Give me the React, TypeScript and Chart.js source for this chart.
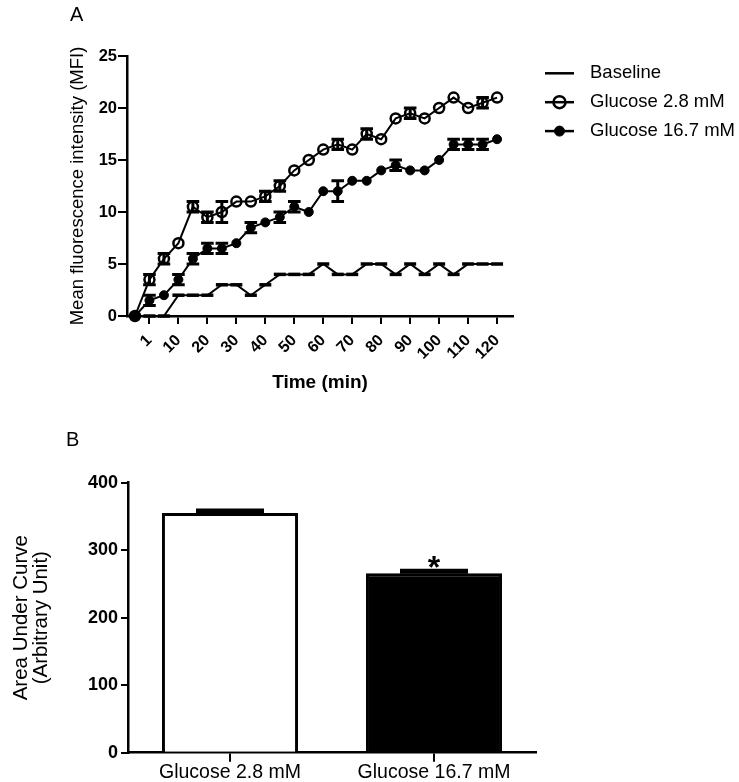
import React, { useEffect, useRef } from 'react';
import { Chart, registerables } from 'chart.js';

Chart.register(...registerables);

const FONT = '"Liberation Sans", Arial, Helvetica, sans-serif';

// Panel A data
const TIME_LABELS = [0, 1, 5, 10, 15, 20, 25, 30, 35, 40, 45, 50, 55, 60, 65, 70, 75, 80, 85, 90, 95, 100, 105, 110, 115, 120];
const TICK_MINUTES = [1, 10, 20, 30, 40, 50, 60, 70, 80, 90, 100, 110, 120];
const SERIES_LABELS = ['Baseline', 'Glucose 2.8 mM', 'Glucose 16.7 mM'];
const BASELINE = [0, 0, 0, 2, 2, 2, 3, 3, 2, 3, 4, 4, 4, 5, 4, 4, 5, 5, 4, 5, 4, 5, 4, 5, 5, 5];
const GLUCOSE_28 = [0, 3.5, 5.5, 7, 10.5, 9.5, 10, 11, 11, 11.5, 12.5, 14, 15, 16, 16.5, 16, 17.5, 17, 19, 19.5, 19, 20, 21, 20, 20.5, 21];
const GLUCOSE_28_ERR = [0, 0.5, 0.5, 0, 0.5, 0.5, 1, 0, 0, 0.5, 0.5, 0, 0, 0, 0.5, 0, 0.5, 0, 0, 0.5, 0, 0, 0, 0, 0.5, 0];
const GLUCOSE_167 = [0, 1.5, 2, 3.5, 5.5, 6.5, 6.5, 7, 8.5, 9, 9.5, 10.5, 10, 12, 12, 13, 13, 14, 14.5, 14, 14, 15, 16.5, 16.5, 16.5, 17];
const GLUCOSE_167_ERR = [0, 0.5, 0, 0.5, 0.5, 0.5, 0.5, 0, 0.5, 0, 0.5, 0.5, 0, 0, 1, 0, 0, 0, 0.5, 0, 0, 0, 0.5, 0.5, 0.5, 0];

// Panel B data
const BAR_LABELS = ['Glucose 2.8 mM', 'Glucose 16.7 mM'];
const BAR_VALUES = [355, 266];
const BAR_ERR = [3, 3];
const BAR_MARKS = ['', '*'];

const toXY = (arr: number[]) => arr.map((v, i) => ({ x: i, y: v }));
const valOf = (d: any) => (typeof d === 'number' ? d : d.y);

const errorBarPlugin = {
  id: 'errorBars',
  afterDatasetsDraw(chart: any) {
    const { ctx } = chart;
    chart.data.datasets.forEach((ds: any, i: number) => {
      const errs: number[] | undefined = ds.errors;
      if (!errs) return;
      const meta = chart.getDatasetMeta(i);
      const yScale = chart.scales[meta.yAxisID];
      meta.data.forEach((el: any, j: number) => {
        const e = errs[j];
        if (!e) return;
        const v = valOf(ds.data[j]);
        const x = el.x;
        const half = ds.errorMode === 'up' ? el.width / 4 : ds.capHalf;
        const yTop = yScale.getPixelForValue(v + e);
        const yBot = ds.errorMode === 'up' ? yScale.getPixelForValue(v) : yScale.getPixelForValue(v - e);
        ctx.save();
        ctx.strokeStyle = '#000';
        ctx.lineWidth = ds.capWidth;
        ctx.lineCap = 'butt';
        ctx.beginPath();
        ctx.moveTo(x, yTop);
        ctx.lineTo(x, yBot);
        ctx.moveTo(x - half, yTop);
        ctx.lineTo(x + half, yTop);
        if (ds.errorMode !== 'up') {
          ctx.moveTo(x - half, yBot);
          ctx.lineTo(x + half, yBot);
        }
        ctx.stroke();
        ctx.restore();
      });
    });
  },
};

const sideLegendPlugin = {
  id: 'sideLegend',
  afterDraw(chart: any) {
    const { ctx, chartArea } = chart;
    const x0 = chartArea.right + 32;
    const len = 29;
    chart.data.datasets.forEach((ds: any, i: number) => {
      const y = chartArea.top + 17.3 + i * 28.9;
      ctx.save();
      ctx.strokeStyle = '#000';
      ctx.fillStyle = '#000';
      ctx.lineWidth = 2.5;
      ctx.beginPath();
      ctx.moveTo(x0, y);
      ctx.lineTo(x0 + len, y);
      ctx.stroke();
      if (ds.pointStyle === 'circle') {
        const cx = x0 + len / 2;
        ctx.beginPath();
        const filled = ds.pointBackgroundColor !== 'rgba(0,0,0,0)';
        ctx.arc(cx, y, filled ? 5 : 6, 0, Math.PI * 2);
        if (filled) ctx.fill();
        ctx.lineWidth = filled ? 1 : 2.5;
        ctx.stroke();
      }
      ctx.font = `18.5px ${FONT}`;
      ctx.textBaseline = 'middle';
      ctx.textAlign = 'left';
      ctx.fillText(ds.label, x0 + 45, y);
      ctx.restore();
    });
  },
};

const markPlugin = {
  id: 'barMarks',
  afterDatasetsDraw(chart: any) {
    const { ctx } = chart;
    const ds = chart.data.datasets[0];
    const meta = chart.getDatasetMeta(0);
    const yScale = chart.scales.y;
    meta.data.forEach((el: any, j: number) => {
      const mark = BAR_MARKS[j];
      if (!mark) return;
      const capY = yScale.getPixelForValue(ds.data[j] + BAR_ERR[j]);
      ctx.save();
      ctx.fillStyle = '#000';
      ctx.font = `bold 32px ${FONT}`;
      ctx.textAlign = 'center';
      ctx.textBaseline = 'alphabetic';
      const m = ctx.measureText(mark);
      const center = capY - 9.5;
      const baseline = center + (m.actualBoundingBoxAscent - m.actualBoundingBoxDescent) / 2;
      ctx.fillText(mark, el.x, baseline);
      ctx.restore();
    });
  },
};

function PanelA() {
  const ref = useRef<HTMLCanvasElement>(null);
  useEffect(() => {
    if (!ref.current) return;
    const chart = new Chart(ref.current, {
      type: 'line',
      data: {
        datasets: [
          {
            label: SERIES_LABELS[0],
            data: toXY(BASELINE),
            borderColor: '#000',
            borderWidth: 2,
            pointStyle: 'line',
            pointRadius: 6,
            pointBorderWidth: 3.5,
            pointBorderColor: '#000',
            tension: 0,
            clip: false,
            order: 2,
          } as any,
          {
            label: SERIES_LABELS[1],
            data: toXY(GLUCOSE_28),
            borderColor: '#000',
            borderWidth: 2,
            pointStyle: 'circle',
            pointRadius: 5,
            pointBorderWidth: 2.5,
            pointBorderColor: '#000',
            pointBackgroundColor: 'rgba(0,0,0,0)',
            tension: 0,
            clip: false,
            order: 1,
            errors: GLUCOSE_28_ERR,
            capHalf: 6.3,
            capWidth: 3,
          } as any,
          {
            label: SERIES_LABELS[2],
            data: toXY(GLUCOSE_167),
            borderColor: '#000',
            borderWidth: 2,
            pointStyle: 'circle',
            pointRadius: 4.5,
            pointBorderWidth: 1,
            pointBorderColor: '#000',
            pointBackgroundColor: '#000',
            tension: 0,
            clip: false,
            order: 0,
            errors: GLUCOSE_167_ERR,
            capHalf: 6.3,
            capWidth: 3,
          } as any,
        ],
      },
      options: {
        animation: false,
        responsive: false,
        events: [],
        layout: { padding: { left: 0, top: 56, right: 226, bottom: 0 } },
        plugins: { legend: { display: false }, tooltip: { enabled: false } },
        scales: {
          x: {
            type: 'linear',
            min: -0.55,
            max: 26.1,
            afterBuildTicks: (s: any) => {
              s.ticks = TICK_MINUTES.map((m) => ({ value: TIME_LABELS.indexOf(m) }));
            },
            afterFit: (s: any) => {
              s.height = 84;
            },
            ticks: {
              autoSkip: false,
              minRotation: 45,
              maxRotation: 45,
              padding: 7,
              color: '#000',
              font: { family: FONT, size: 16, weight: 'bold' },
              callback: (v: any) => String(TIME_LABELS[v]),
            },
            grid: { drawOnChartArea: false, drawTicks: true, tickLength: 8, color: '#000', lineWidth: 2 },
            border: { display: true, color: '#000', width: 2.5 },
            title: {
              display: true,
              text: 'Time (min)',
              color: '#000',
              font: { family: FONT, size: 19, weight: 'bold' },
              padding: { top: 0, bottom: 5.6 },
            },
          },
          y: {
            type: 'linear',
            min: 0,
            max: 25,
            afterFit: (s: any) => {
              s.width = 127;
            },
            ticks: {
              stepSize: 5,
              padding: 1,
              color: '#000',
              font: { family: FONT, size: 16.5, weight: 'bold' },
            },
            grid: { drawOnChartArea: false, drawTicks: true, tickLength: 9, color: '#000', lineWidth: 2 },
            border: { display: true, color: '#000', width: 2.5 },
            title: {
              display: true,
              text: 'Mean fluorescence intensity (MFI)',
              color: '#000',
              font: { family: FONT, size: 18.5 },
              padding: { top: 67, bottom: 0 },
            },
          },
        },
      } as any,
      plugins: [errorBarPlugin, sideLegendPlugin],
    });
    return () => chart.destroy();
  }, []);
  return <canvas ref={ref} width={739} height={400} style={{ position: 'absolute', left: 0, top: 0 }} />;
}

function PanelB() {
  const ref = useRef<HTMLCanvasElement>(null);
  useEffect(() => {
    if (!ref.current) return;
    const chart = new Chart(ref.current, {
      type: 'bar',
      data: {
        labels: BAR_LABELS,
        datasets: [
          {
            data: BAR_VALUES,
            backgroundColor: ['#ffffff', '#000000'],
            borderColor: '#000',
            borderWidth: 3,
            barPercentage: 0.667,
            categoryPercentage: 1,
            errors: BAR_ERR,
            errorMode: 'up',
            capWidth: 5,
          } as any,
        ],
      },
      options: {
        animation: false,
        responsive: false,
        events: [],
        layout: { padding: { left: 0, top: 82.7, right: 203, bottom: 0 } },
        plugins: { legend: { display: false }, tooltip: { enabled: false } },
        scales: {
          x: {
            afterFit: (s: any) => {
              s.height = 29.3;
            },
            ticks: {
              maxRotation: 0,
              minRotation: 0,
              autoSkip: false,
              padding: 0,
              color: '#000',
              font: { family: FONT, size: 19.5, lineHeight: 1.1 },
            },
            grid: { drawOnChartArea: false, drawTicks: true, tickLength: 9, color: '#000', lineWidth: 2, offset: false },
            border: { display: true, color: '#000', width: 2.5 },
          },
          y: {
            min: 0,
            max: 400,
            afterFit: (s: any) => {
              s.width = 128;
            },
            ticks: {
              stepSize: 100,
              padding: 3,
              color: '#000',
              font: { family: FONT, size: 18, weight: 'bold' },
            },
            grid: { drawOnChartArea: false, drawTicks: true, tickLength: 7, color: '#000', lineWidth: 2 },
            border: { display: true, color: '#000', width: 2.5 },
            title: {
              display: true,
              text: ['Area Under Curve', '(Arbitrary Unit)'],
              color: '#000',
              font: { family: FONT, size: 20.5, lineHeight: 1.0 },
              padding: { top: 10.75, bottom: 0 },
            },
          },
        },
      } as any,
      plugins: [errorBarPlugin, markPlugin],
    });
    return () => chart.destroy();
  }, []);
  return <canvas ref={ref} width={739} height={382} style={{ position: 'absolute', left: 0, top: 400 }} />;
}

export default function App() {
  const letter: React.CSSProperties = {
    position: 'absolute',
    fontFamily: FONT,
    fontSize: 20,
    lineHeight: '20px',
    color: '#000',
    margin: 0,
  };
  return (
    <div style={{ position: 'absolute', left: 0, top: 0, width: 739, height: 782, background: '#fff', overflow: 'hidden' }}>
      <PanelA />
      <PanelB />
      <div style={{ ...letter, left: 70, top: 4 }}>A</div>
      <div style={{ ...letter, left: 66, top: 429 }}>B</div>
    </div>
  );
}
